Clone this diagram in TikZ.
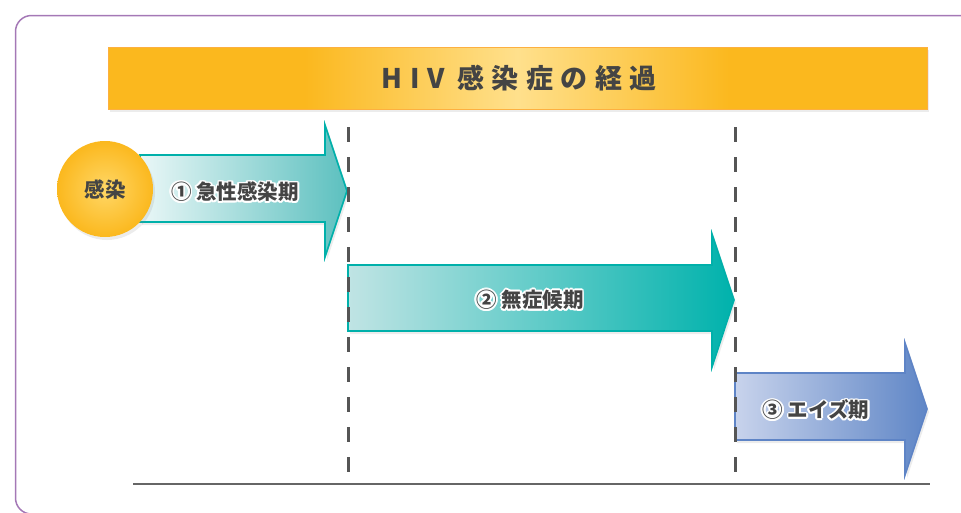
\documentclass[tikz,border=0pt]{standalone}
\usepackage{fontspec}
\newfontfamily\jp{Noto Sans CJK JP}
\usetikzlibrary{shadows}
\definecolor{orng}{HTML}{FBB81E}
\definecolor{orngB}{HTML}{FDB040}
\definecolor{lite}{HTML}{FFE08C}
\definecolor{cirIn}{HTML}{FFD766}
\definecolor{tealS}{HTML}{00B0AA}
\definecolor{aoneL}{HTML}{EAF7F7}
\definecolor{aoneR}{HTML}{5CC0BF}
\definecolor{atwoL}{HTML}{C0E4E4}
\definecolor{atwoR}{HTML}{00B2AC}
\definecolor{bluS}{HTML}{5E84C6}
\definecolor{athrL}{HTML}{C8D3EC}
\definecolor{athrR}{HTML}{5F86C6}
\definecolor{txtg}{HTML}{444444}
\definecolor{dashg}{HTML}{555555}
\definecolor{lineg}{HTML}{666666}
\definecolor{purp}{HTML}{A478B6}
\pgfdeclarehorizontalshading{titleshade}{100bp}{color(0bp)=(orng); color(37bp)=(orng); color(50bp)=(lite); color(63bp)=(orng); color(100bp)=(orng)}
\newcommand{\olbl}[3]{%
  \foreach \a in {0,30,...,330}{\node[lbl,text=white,xshift={1.8pt*cos(\a)},yshift={1.8pt*sin(\a)}] at (#2) {#3};}
  \node[lbl] (#1) at (#2) {#3};}
\begin{document}
\begin{tikzpicture}[x=1pt,y=-1pt,
  lbl/.style={font=\jp\bfseries\fontsize{20.5}{21}\selectfont, text=txtg, inner sep=0pt},
  shad/.style={drop shadow={opacity=.15, shadow xshift=2pt, shadow yshift=-3pt}},
  arrowbox/.style={shade, line width=1.6pt, line join=miter, shad},
  dashline/.style={draw=dashg, line width=3pt, dash pattern=on 15pt off 15pt}]
\useasboundingbox (0,0) rectangle (961,512);
\begin{scope}
\clip (0,0) rectangle (961,512);
\draw[purp, line width=1.5pt, rounded corners=16pt] (15.5,15.5) rectangle (995,514);
\end{scope}
% title bar
\path[shading=titleshade, draw=orngB, line width=1pt, shad] (108,47) rectangle (927,109);
\node[font=\jp\bfseries\fontsize{27}{28}\selectfont, text=txtg, inner sep=0pt] (title) at (519,78)
  {H\hspace{8pt}I\hspace{8pt}V\hspace{12pt}感\hspace{7.5pt}染\hspace{7.5pt}症\hspace{7.5pt}の\hspace{7.5pt}経\hspace{7.5pt}過};
% arrows
\path[arrowbox, left color=aoneL, right color=aoneR, draw=tealS]
  (140,155) -- (325,155) -- (325,125) -- (347,191) -- (325,257) -- (325,222) -- (140,222) -- cycle;
\path[arrowbox, left color=atwoL, right color=atwoR, draw=tealS]
  (348,265) -- (712,265) -- (712,234) -- (734,300) -- (712,367) -- (712,331) -- (348,331) -- cycle;
\path[arrowbox, left color=athrL, right color=athrR, draw=bluS]
  (735,373) -- (905,373) -- (905,343) -- (927,409) -- (905,475) -- (905,440) -- (735,440) -- cycle;
% circle
\shade[inner color=cirIn, outer color=orng, shad] (105,189) circle (48pt);
\node[lbl] (kansen) at (105,190) {感染};
% labels
\olbl{lone}{235,192}{① 急性感染期}
\olbl{ltwo}{530,300}{② 無症候期}
\olbl{lthr}{816,410}{③ エイズ期}
% dashed lines and baseline
\coordinate (d1t) at (348,127); \coordinate (d1b) at (348,482);
\coordinate (d2t) at (735,127); \coordinate (d2b) at (735,482);
\draw[dashline] (d1t) -- (d1b);
\draw[dashline] (d2t) -- (d2b);
\coordinate (bl) at (133,484); \coordinate (br) at (930,484);
\draw[lineg, line width=2pt] (bl) -- (br);
\end{tikzpicture}
\end{document}
